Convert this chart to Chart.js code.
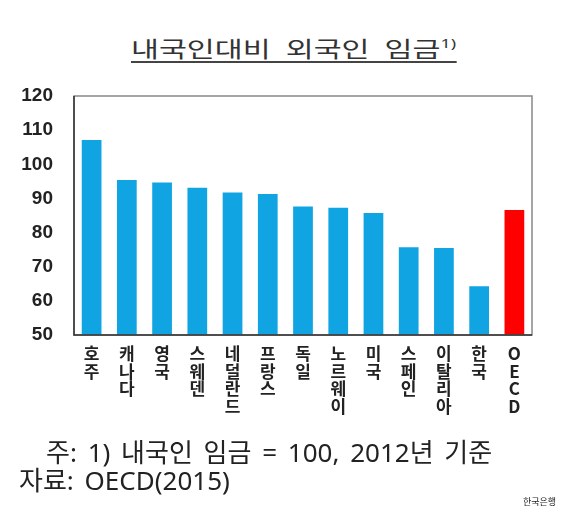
<!DOCTYPE html>
<html>
<head>
<meta charset="utf-8">
<script src="https://cdn.jsdelivr.net/npm/chart.js@4.4.1/dist/chart.umd.min.js"></script>
<style>
  body { margin: 0; background: #fff; width: 570px; height: 510px; position: relative; overflow: hidden; }
  #title { position: absolute; left: 131px; top: 29px; font-family: "Noto Sans CJK KR"; font-size: 22px; color: #333;
           word-spacing: 6px; border-bottom: 2px solid #444; line-height: 28px; white-space: nowrap;
           transform: scaleX(1.38); transform-origin: 0 0; }
  #title sup { font-family: "Noto Sans"; font-size: 13px; vertical-align: 9px; }
  #chartBox { position: absolute; left: 0; top: 0; width: 570px; height: 440px; }
  .note { position: absolute; font-family: "Noto Sans", "Noto Sans CJK KR"; color: #222; white-space: nowrap;
          font-size: 26px; line-height: 30px; word-spacing: 4px; }
</style>
</head>
<body>
<div id="title">내국인대비 외국인 임금<sup>1)</sup></div>
<div id="chartBox"><canvas id="wageChart"></canvas></div>
<div class="note" style="left:46px; top:437px;">주: 1) 내국인 임금 = 100, 2012년 기준</div>
<div class="note" style="left:19px; top:465px;">자료: OECD(2015)</div>
<div class="note" style="left:523px; top:496px; font-size:9px; line-height:12px; word-spacing:0;">한국은행</div>
<script>
const countries = ['호주', '캐나다', '영국', '스웨덴', '네덜란드', '프랑스', '독일', '노르웨이', '미국', '스페인', '이탈리아', '한국', 'OECD'];
const wageRatio = [107.1, 95.4, 94.7, 93.1, 91.7, 91.3, 87.6, 87.3, 85.7, 75.7, 75.5, 64.3, 86.6];
const yTicks = [50, 60, 70, 80, 90, 100, 110, 120];

// stack each label's characters vertically
const stackedLabels = countries.map(name => name.split(''));
const barColors = countries.map(name => name === 'OECD' ? '#ff0000' : '#10a5e2');

const frame = {
    id: 'frame',
    afterDraw(chart) {
        const { ctx, chartArea: a } = chart;
        ctx.save();
        ctx.strokeStyle = '#888';
        ctx.lineWidth = 1.5;
        ctx.strokeRect(a.left, a.top, a.right - a.left, a.bottom - a.top);
        ctx.strokeStyle = '#333';
        ctx.beginPath();
        ctx.moveTo(a.left, a.top);
        ctx.lineTo(a.left, a.bottom);
        ctx.lineTo(a.right, a.bottom);
        ctx.stroke();
        ctx.restore();
    }
};

new Chart(document.getElementById('wageChart'), {
    type: 'bar',
    data: {
        labels: stackedLabels,
        datasets: [{
            data: wageRatio,
            backgroundColor: barColors,
            borderWidth: 0,
            barPercentage: 0.56,
            categoryPercentage: 1
        }]
    },
    options: {
        responsive: true,
        maintainAspectRatio: false,
        animation: false,
        layout: { padding: { top: 96, right: 38, left: 10, bottom: 0 } },
        plugins: { legend: { display: false }, tooltip: { enabled: false } },
        scales: {
            y: {
                min: 50, max: 120,
                afterBuildTicks: scale => { scale.ticks = yTicks.map(v => ({ value: v })); },
                afterFit: scale => { scale.width = 64; },
                grid: { display: false, drawTicks: false },
                border: { display: false },
                ticks: { color: '#222', padding: 21, font: { family: 'Liberation Sans', size: 19, weight: 'bold' } }
            },
            x: {
                afterFit: scale => { scale.height = 105; },
                grid: { display: false, drawTicks: false },
                border: { display: false },
                ticks: { color: '#222', padding: 10, maxRotation: 0, autoSkip: false,
                         font: { family: 'Noto Sans CJK KR', size: 17, weight: 'bold', lineHeight: 1.03 } }
            }
        }
    },
    plugins: [frame]
});
</script>
</body>
</html>
